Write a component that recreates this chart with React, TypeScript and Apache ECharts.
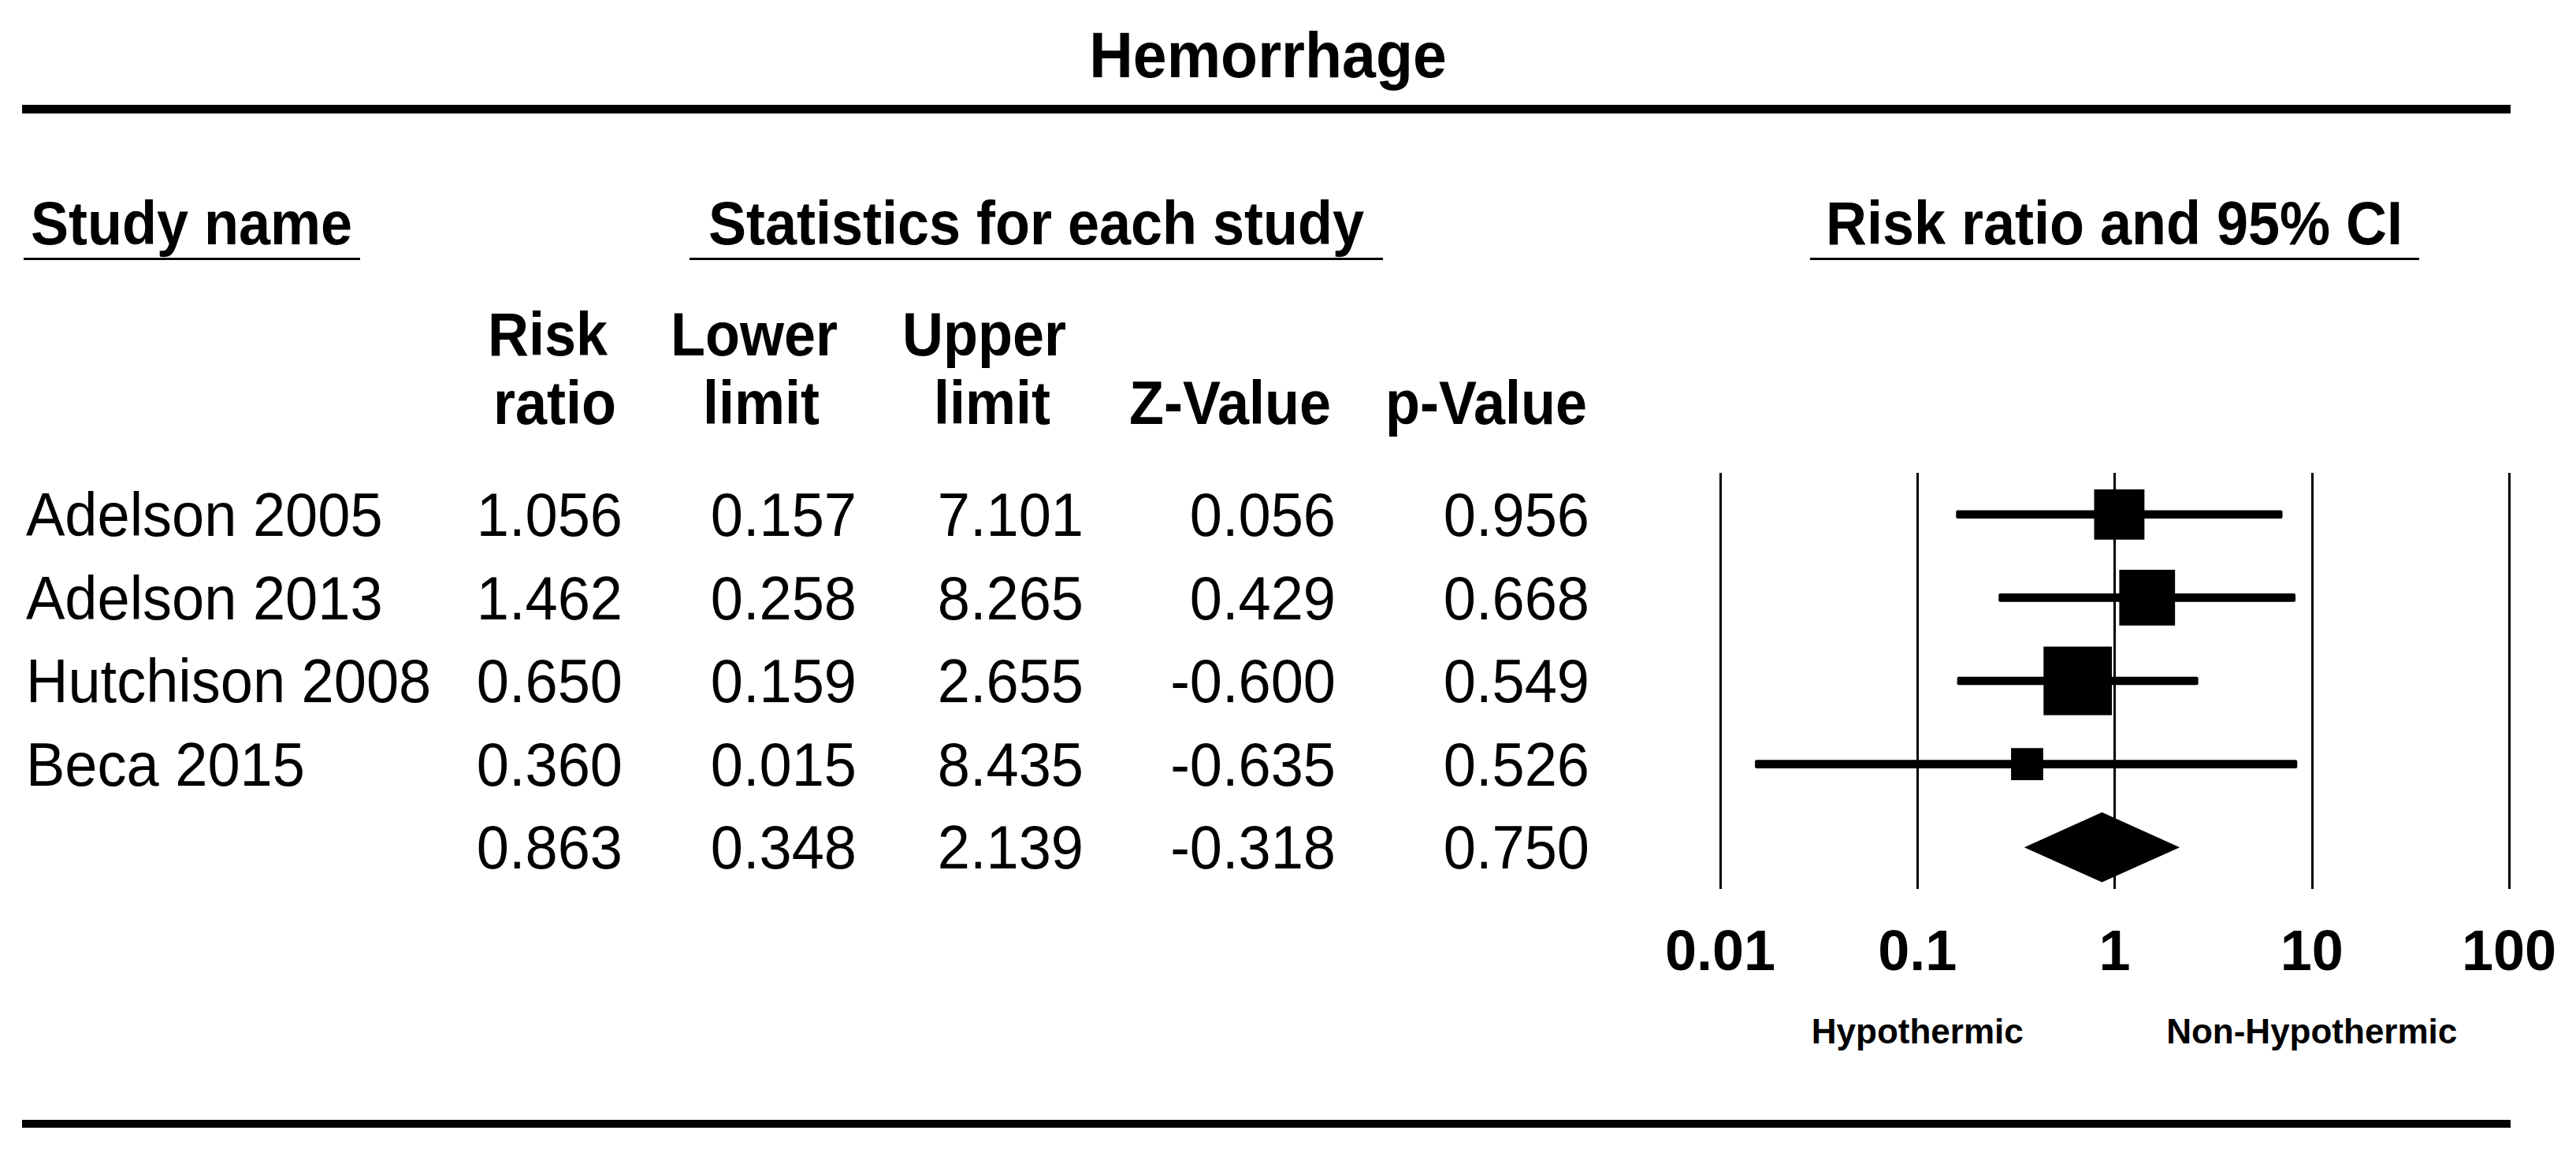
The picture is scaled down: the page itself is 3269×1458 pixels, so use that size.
import React, { useEffect, useRef } from "react";
import * as echarts from "echarts";

// ---------- data ----------
const chartTitle = "Hemorrhage";
const studies = ["Adelson 2005", "Adelson 2013", "Hutchison 2008", "Beca 2015"];
const riskRatio = [1.056, 1.462, 0.65, 0.36];
const lowerLimit = [0.157, 0.258, 0.159, 0.015];
const upperLimit = [7.101, 8.265, 2.655, 8.435];
const zValue = [0.056, 0.429, -0.6, -0.635];
const pValue = [0.956, 0.668, 0.549, 0.526];
const weights = [22.3, 27.4, 41.2, 9.1]; // relative weights (square area)
const summaryStats = [0.863, 0.348, 2.139, -0.318, 0.75]; // RR, lower, upper, Z, p
const axisTicks = [0.01, 0.1, 1, 10, 100];
const axisTickLabels = ["0.01", "0.1", "1", "10", "100"];
const sectionHeaders = ["Study name", "Statistics for each study", "Risk ratio and 95% CI"];
const columnHeaders = [
  ["Risk", "ratio"],
  ["Lower", "limit"],
  ["Upper", "limit"],
  ["", "Z-Value"],
  ["", "p-Value"],
];
const directionLabels = ["Hypothermic", "Non-Hypothermic"];
const rowCats = [...studies, "Overall"];

// ---------- layout ----------
const W = 3269;
const H = 1458;
const FONT = "'Liberation Sans', Arial, sans-serif";
const colRight = [790, 1087, 1375, 1695, 2017];
const headerCenters = [
  [695, 704],
  [957, 966],
  [1249, 1259],
  [1561, 1561],
  [1886, 1886],
];

const fmt = (v: number) => v.toFixed(3);

function txt(text: string, x: number, y: number, size: number, bold: boolean, align: string, sy = 1) {
  return {
    type: "text",
    x,
    y,
    scaleY: sy,
    silent: true,
    style: {
      text,
      fill: "#000",
      fontSize: size,
      fontWeight: bold ? "bold" : "normal",
      fontFamily: FONT,
      textAlign: align,
      align,
      textVerticalAlign: "middle",
      verticalAlign: "middle",
    },
  };
}

function rect(x: number, y: number, w: number, h: number) {
  return { type: "rect", silent: true, shape: { x, y, width: w, height: h }, style: { fill: "#000" } };
}

export default function App() {
  const ref = useRef<HTMLDivElement>(null);

  useEffect(() => {
    const chart = echarts.init(ref.current!, null, { renderer: "svg", width: W, height: H });

    const option: any = {
      animation: false,
      backgroundColor: "#fff",
      grid: { left: 2183, right: W - 3184, top: 600, height: 528 },
      xAxis: {
        type: "log",
        logBase: 10,
        min: 0.01,
        max: 100,
        splitNumber: 4,
        axisLine: { show: false },
        axisTick: { show: false },
        splitLine: { show: true, lineStyle: { color: "#000", width: 3 } },
        axisLabel: {
          show: true,
          margin: 42,
          fontSize: 72,
          lineHeight: 72,
          fontWeight: "bold",
          fontFamily: FONT,
          color: "#000",
          formatter: (v: number) => {
            const i = axisTicks.findIndex((t) => Math.abs(Math.log10(t) - Math.log10(v)) < 1e-6);
            return i >= 0 ? axisTickLabels[i] : "";
          },
        },
      },
      yAxis: {
        type: "category",
        data: rowCats,
        inverse: true,
        show: false,
      },
      series: [
        {
          type: "custom",
          coordinateSystem: "cartesian2d",
          encode: { x: 0, y: 1 },
          data: studies.map((s, i) => [riskRatio[i], i, lowerLimit[i], upperLimit[i], weights[i]]),
          renderItem: (params: any, api: any) => {
            const c = api.coord([api.value(0), api.value(1)]);
            const l = api.coord([api.value(2), api.value(1)]);
            const h = api.coord([api.value(3), api.value(1)]);
            let band = api.size([1, 1])[1];
            if (!isFinite(band)) band = 105.6;
            const lineH = band * 0.1;
            const side = Math.sqrt(api.value(4)) * band * 0.128;
            return {
              type: "group",
              children: [
                {
                  type: "rect",
                  shape: { x: l[0], y: c[1] - lineH / 2, width: h[0] - l[0], height: lineH, r: 2 },
                  style: { fill: "#000" },
                },
                {
                  type: "rect",
                  shape: { x: c[0] - side / 2, y: c[1] - side / 2, width: side, height: side },
                  style: { fill: "#000" },
                },
              ],
            };
          },
        },
        {
          type: "custom",
          coordinateSystem: "cartesian2d",
          encode: { x: 0, y: 1 },
          data: [[summaryStats[0], studies.length, summaryStats[1], summaryStats[2]]],
          renderItem: (params: any, api: any) => {
            const c = api.coord([api.value(0), api.value(1)]);
            const l = api.coord([api.value(2), api.value(1)]);
            const h = api.coord([api.value(3), api.value(1)]);
            let band = api.size([1, 1])[1];
            if (!isFinite(band)) band = 105.6;
            const hh = band * 0.42;
            return {
              type: "polygon",
              shape: {
                points: [
                  [l[0], c[1]],
                  [c[0], c[1] - hh],
                  [h[0], c[1]],
                  [c[0], c[1] + hh],
                ],
              },
              style: { fill: "#000" },
            };
          },
        },
      ],
    };

    chart.setOption(option);

    const rowY = rowCats.map((_, i) => chart.convertToPixel({ yAxisIndex: 0 }, i) as number);
    const xLow = chart.convertToPixel({ xAxisIndex: 0 }, 0.1) as number;
    const xHigh = chart.convertToPixel({ xAxisIndex: 0 }, 10) as number;

    const elements: any[] = [];
    // title and rules
    elements.push(txt(chartTitle, 1609, 70, 77, true, "center", 1.05));
    elements.push(rect(28, 133, 3158, 11));
    elements.push(rect(28, 1421, 3158, 10));
    // section headers with underlines
    const secCenters = [243, 1315, 2683];
    const secUnder = [
      [30, 457],
      [875, 1755],
      [2297, 3070],
    ];
    sectionHeaders.forEach((s, i) => {
      elements.push(txt(s, secCenters[i], 284, 72, true, "center", 1.07));
      elements.push(rect(secUnder[i][0], 327, secUnder[i][1] - secUnder[i][0], 3));
    });
    // column headers
    columnHeaders.forEach((lines, j) => {
      if (lines[0]) elements.push(txt(lines[0], headerCenters[j][0], 425, 72, true, "center", 1.07));
      if (lines[1]) elements.push(txt(lines[1], headerCenters[j][1], 512, 72, true, "center", 1.07));
    });
    // study rows
    studies.forEach((s, i) => {
      const y = rowY[i];
      elements.push(txt(s, 33, y, 74, false, "left", 1.06));
      const vals = [riskRatio[i], lowerLimit[i], upperLimit[i], zValue[i], pValue[i]];
      vals.forEach((v, j) => elements.push(txt(fmt(v), colRight[j], y, 74, false, "right", 1.06)));
    });
    // summary row
    summaryStats.forEach((v, j) =>
      elements.push(txt(fmt(v), colRight[j], rowY[studies.length], 74, false, "right", 1.06))
    );
    // direction labels
    elements.push(txt(directionLabels[0], xLow, 1308, 44, true, "center"));
    elements.push(txt(directionLabels[1], xHigh, 1308, 44, true, "center"));

    chart.setOption({ graphic: { elements } });

    return () => chart.dispose();
  }, []);

  return (
    <div
      ref={ref}
      style={{ position: "absolute", left: 0, top: 0, width: W, height: H, background: "#fff" }}
    />
  );
}
